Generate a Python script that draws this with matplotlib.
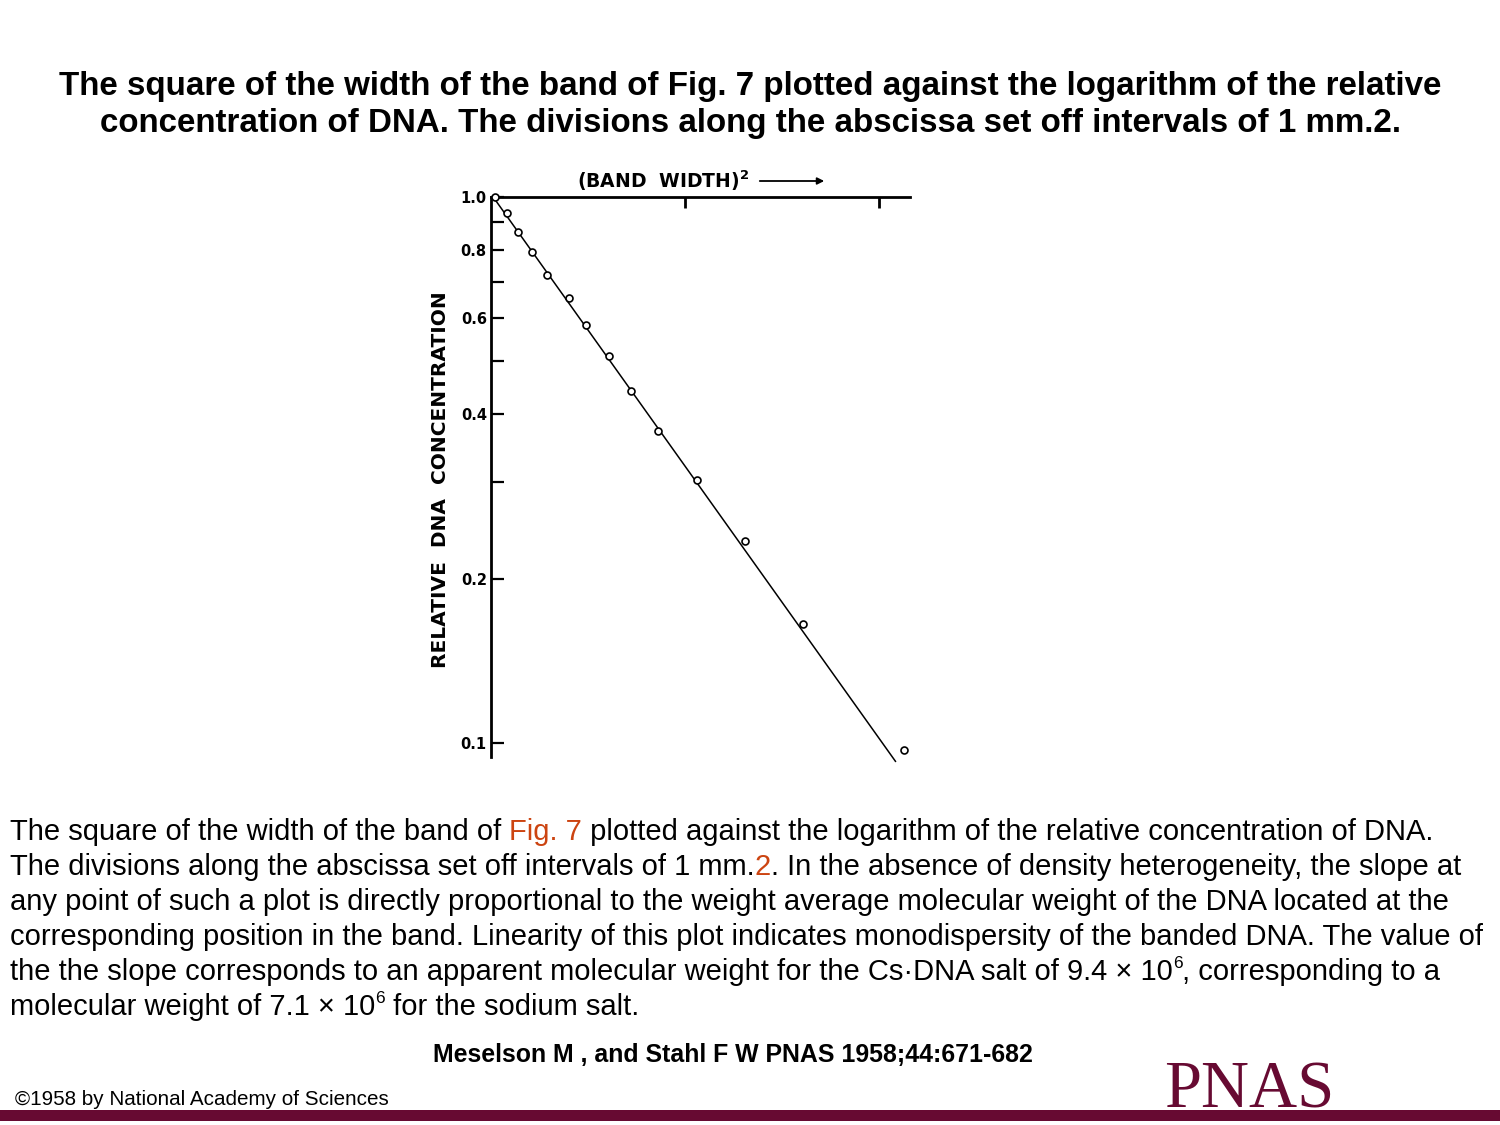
import matplotlib
matplotlib.use('Agg')
import matplotlib.pyplot as plt

# Setup
matplotlib.rc('font', family='Liberation Sans')
W, H = 1500, 1125
red = '#cc4411'
maroon = '#670a32'

# data (band width^2 in mm^2, relative concentration)
band_width_sq = [0.02, 0.08, 0.14, 0.21, 0.29, 0.40, 0.49, 0.61, 0.72, 0.86,
                 1.06, 1.31, 1.61, 2.13]
rel_conc = [1.00, 0.934, 0.862, 0.793, 0.721, 0.654, 0.582, 0.512, 0.441,
            0.373, 0.303, 0.234, 0.165, 0.097]
fit_x = [0.02, 2.085]
fit_y = [0.99, 0.0925]

y_major = [0.1, 0.2, 0.4, 0.6, 0.8, 1.0]
y_major_labels = ['0.1', '0.2', '0.4', '0.6', '0.8', '1.0']
y_minor = [0.3, 0.5, 0.7, 0.9]
x_ticks = [1, 2]

title_lines = ["The square of the width of the band of Fig. 7 plotted against the logarithm of the relative",
               "concentration of DNA. The divisions along the abscissa set off intervals of 1 mm.2."]

# caption: list of segments (text, colour, superscript?)
caption = [
    [("The square of the width of the band of ", 'k', False), ("Fig. 7", red, False),
     (" plotted against the logarithm of the relative concentration of DNA.", 'k', False)],
    [("The divisions along the abscissa set off intervals of 1 mm.", 'k', False), ("2", red, False),
     (". In the absence of density heterogeneity, the slope at", 'k', False)],
    [("any point of such a plot is directly proportional to the weight average molecular weight of the DNA located at the", 'k', False)],
    [("corresponding position in the band. Linearity of this plot indicates monodispersity of the banded DNA. The value of", 'k', False)],
    [("the the slope corresponds to an apparent molecular weight for the Cs\u00b7DNA salt of 9.4 \u00d7 10", 'k', False),
     ("6", 'k', True), (", corresponding to a", 'k', False)],
    [("molecular weight of 7.1 \u00d7 10", 'k', False), ("6", 'k', True), (" for the sodium salt.", 'k', False)],
]

fig = plt.figure(figsize=(15, 11.25), dpi=100, facecolor='w')

def fx(px):
    return px / W

def fy(py):
    return 1 - py / H

# title
for i, line in enumerate(title_lines):
    fig.text(0.5, fy(95 + 37 * i), line, ha='center', va='baseline',
             fontsize=23.9, fontweight='bold')

# plot
ax = fig.add_axes([fx(491), fy(757), fx(910) - fx(491), fy(197) - fy(757)])
ax.set_yscale('log')
ax.plot(fit_x, fit_y, color='k', lw=1.1, zorder=2, clip_on=False)
ax.plot(band_width_sq, rel_conc, ls='none', marker='o', ms=5, mfc='w',
        mec='k', mew=1.2, zorder=3, clip_on=False)
ax.set_xlim(0, 2.16)
ax.set_ylim(0.0942, 1.0)

for s in ['right', 'bottom']:
    ax.spines[s].set_visible(False)
for s in ['left', 'top']:
    ax.spines[s].set_linewidth(2.0)

ax.set_yticks(y_major)
ax.set_yticklabels(y_major_labels, fontsize=10.5, family='DejaVu Sans',
                   fontweight='bold')
ax.set_yticks(y_minor, minor=True)
ax.yaxis.set_minor_formatter(matplotlib.ticker.NullFormatter())
ax.tick_params(axis='y', which='both', direction='in', length=9, width=1.6, pad=3)

ax.set_xticks(x_ticks)
ax.xaxis.set_ticks_position('top')
ax.tick_params(axis='x', direction='in', length=8, width=2.0, labeltop=False,
               labelbottom=False)

fig.text(fx(441), fy(480), "RELATIVE  DNA  CONCENTRATION", rotation=90,
         ha='center', va='center', fontsize=14.5, family='DejaVu Sans',
         fontweight='bold')
fig.text(fx(577), fy(188), "(BAND  WIDTH)$^{\\mathbf{2}}$", ha='left', va='baseline',
         fontsize=13.5, family='DejaVu Sans', fontweight='bold')
fig.add_artist(matplotlib.patches.FancyArrowPatch(
    (fx(757), fy(181)), (fx(827), fy(181)), transform=fig.transFigure,
    arrowstyle='-|>', mutation_scale=10, lw=1.3, color='k'))

# caption with coloured pieces
fig.canvas.draw()
renderer = fig.canvas.get_renderer()
for i, line in enumerate(caption):
    x = 10
    base = 840 + 35 * i
    for txt, col, sup in line:
        if sup:
            t = fig.text(fx(x), fy(base - 12), txt, color=col, fontsize=12.5,
                         ha='left', va='baseline')
        else:
            t = fig.text(fx(x), fy(base), txt, color=col, fontsize=21,
                         ha='left', va='baseline')
        bb = t.get_window_extent(renderer)
        x = x + bb.width

fig.text(fx(733), fy(1062), "Meselson M , and Stahl F W PNAS 1958;44:671-682",
         ha='center', va='baseline', fontsize=17.9, fontweight='bold')
fig.text(fx(15), fy(1105), "\u00a91958 by National Academy of Sciences",
         ha='left', va='baseline', fontsize=14.9)
fig.text(fx(1249), fy(1108), "PNAS", ha='center', va='baseline', fontsize=48,
         family='Liberation Serif', color=maroon)
fig.add_artist(matplotlib.patches.Rectangle((0, fy(1121)), 1, fy(1110) - fy(1121),
               transform=fig.transFigure, color=maroon, lw=0))

plt.savefig('out.png', dpi=100, facecolor='w')
